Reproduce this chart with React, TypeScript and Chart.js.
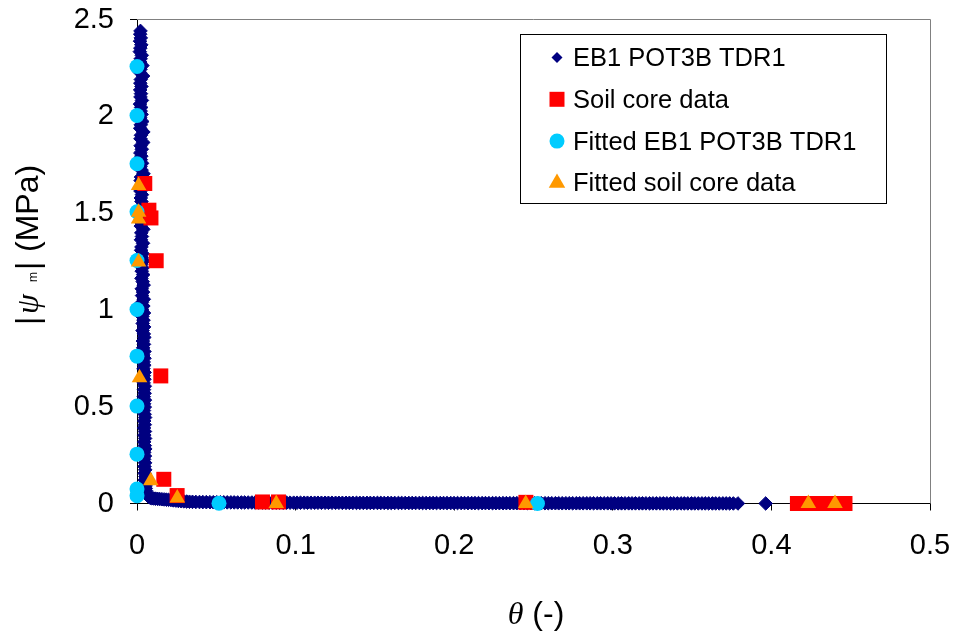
import React, { useEffect, useRef } from 'react';
import { Chart, registerables } from 'chart.js';

Chart.register(...registerables);

const SANS = "'Liberation Sans', Arial, Helvetica, sans-serif";
const SERIF = "'Liberation Serif', 'Times New Roman', serif";

// Axis ticks
const xTickValues = [0, 0.1, 0.2, 0.3, 0.4, 0.5];
const yTickValues = [0, 0.5, 1, 1.5, 2, 2.5];

const seriesLabels = ['EB1 POT3B TDR1', 'Soil core data', 'Fitted EB1 POT3B TDR1', 'Fitted soil core data'];
const seriesColors = ['#000080', '#ff0000', '#00ccff', '#ff9900'];

// TDR record, [theta (-), |psi_m| (MPa)]: drying branch (high suction)
const eb1Tdr1Dry: [number, number][] = [
  [0.0022, 2.441], [0.002, 2.424], [0.0024, 2.405], [0.0019, 2.388], [0.0027, 2.369], [0.0021, 2.352],
  [0.0018, 2.334], [0.003, 2.315], [0.0023, 2.297], [0.002, 2.28], [0.0034, 2.262], [0.0022, 2.243],
  [0.0019, 2.226], [0.0038, 2.208], [0.0024, 2.19], [0.0021, 2.171], [0.0028, 2.154], [0.002, 2.136],
  [0.0025, 2.117], [0.0022, 2.1], [0.0031, 2.082], [0.0019, 2.063], [0.0026, 2.046], [0.0023, 2.027],
  [0.0029, 2.01], [0.0021, 1.992], [0.0033, 1.973], [0.0024, 1.956], [0.002, 1.938], [0.004, 1.919],
  [0.0025, 1.902], [0.0022, 1.884], [0.0039, 1.865], [0.0023, 1.848], [0.003, 1.83], [0.0021, 1.811],
  [0.0027, 1.794], [0.0024, 1.776], [0.0032, 1.757], [0.0022, 1.74], [0.0029, 1.722], [0.0041, 1.703],
  [0.0025, 1.686], [0.0023, 1.668], [0.0037, 1.649], [0.0026, 1.632], [0.0022, 1.614], [0.0031, 1.595],
  [0.0024, 1.578], [0.0028, 1.56], [0.0039, 1.541], [0.0025, 1.524], [0.003, 1.506], [0.0023, 1.487],
  [0.0036, 1.47], [0.0026, 1.452], [0.0024, 1.433], [0.004, 1.416], [0.0027, 1.398], [0.0031, 1.379],
  [0.0025, 1.362], [0.0038, 1.344], [0.0028, 1.325], [0.0026, 1.308], [0.0036, 1.29], [0.0029, 1.271],
  [0.0041, 1.254], [0.0027, 1.236], [0.0035, 1.217], [0.003, 1.2], [0.0039, 1.182], [0.0028, 1.163],
  [0.0036, 1.146], [0.0042, 1.128], [0.003, 1.109], [0.0038, 1.092], [0.0032, 1.074], [0.0043, 1.055],
  [0.0031, 1.038], [0.004, 1.02], [0.0033, 1.001], [0.0044, 0.984], [0.0034, 0.966], [0.0041, 0.947],
  [0.0036, 0.93], [0.0045, 0.912], [0.0035, 0.893], [0.0043, 0.876], [0.0046, 0.858], [0.0037, 0.839],
  [0.0044, 0.822], [0.0039, 0.804], [0.0047, 0.785], [0.004, 0.768], [0.0047, 0.75], [0.0042, 0.731],
  [0.0046, 0.714], [0.0041, 0.696], [0.0048, 0.677], [0.0043, 0.66], [0.0047, 0.642], [0.0042, 0.623],
  [0.0049, 0.606], [0.0044, 0.588], [0.0048, 0.569], [0.0043, 0.552], [0.005, 0.534], [0.0045, 0.515],
  [0.0049, 0.498], [0.0044, 0.48], [0.0048, 0.461], [0.0051, 0.444], [0.0045, 0.426], [0.0049, 0.407],
  [0.0044, 0.39], [0.005, 0.372], [0.0046, 0.353], [0.0051, 0.336], [0.0045, 0.318], [0.0049, 0.299],
  [0.0052, 0.282], [0.0046, 0.264], [0.005, 0.245], [0.0045, 0.228], [0.0051, 0.21], [0.0047, 0.191],
  [0.0052, 0.174], [0.0048, 0.156], [0.0053, 0.139], [0.0049, 0.122], [0.0053, 0.106], [0.0054, 0.091],
  [0.0055, 0.078], [0.0057, 0.066], [0.006, 0.055], [0.0064, 0.046], [0.0069, 0.039], [0.0076, 0.033],
  [0.0084, 0.029], [0.0094, 0.027], [0.0105, 0.026], [0.0117, 0.025], [0.013, 0.024], [0.0143, 0.023],
  [0.0157, 0.022], [0.0171, 0.021], [0.0185, 0.02], [0.0199, 0.019], [0.0214, 0.018], [0.0229, 0.016],
  [0.0245, 0.015], [0.0261, 0.013], [0.0278, 0.012], [0.0295, 0.011], [0.0313, 0.01], [0.0331, 0.009],
];

// TDR record, wet branch (near-zero suction)
const eb1Tdr1Wet: [number, number][] = [
  [0.035, 0.0085], [0.0371, 0.008], [0.0394, 0.0076], [0.0415, 0.0073], [0.0437, 0.007], [0.046, 0.0068],
  [0.0481, 0.0066], [0.0503, 0.0064], [0.0526, 0.0062], [0.0547, 0.0061], [0.0569, 0.0059], [0.0592, 0.0058],
  [0.0613, 0.0056], [0.0635, 0.0055], [0.0658, 0.0054], [0.0679, 0.0053], [0.0701, 0.0052], [0.0724, 0.0051],
  [0.0745, 0.005], [0.0767, 0.0049], [0.079, 0.0048], [0.0811, 0.0047], [0.0833, 0.0047], [0.0856, 0.0046],
  [0.0877, 0.0045], [0.0899, 0.0044], [0.0922, 0.0044], [0.0943, 0.0043], [0.0965, 0.0042], [0.0988, 0.0042],
  [0.1009, 0.0041], [0.1031, 0.004], [0.1054, 0.004], [0.1075, 0.0039], [0.1097, 0.0039], [0.112, 0.0038],
  [0.1141, 0.0038], [0.1163, 0.0037], [0.1186, 0.0037], [0.1207, 0.0036], [0.1229, 0.0036], [0.1252, 0.0035],
  [0.1273, 0.0035], [0.1295, 0.0034], [0.1318, 0.0034], [0.1339, 0.0033], [0.1361, 0.0033], [0.1384, 0.0032],
  [0.1405, 0.0032], [0.1427, 0.0032], [0.145, 0.0031], [0.1471, 0.0031], [0.1493, 0.003], [0.1516, 0.003],
  [0.1537, 0.003], [0.1559, 0.0029], [0.1582, 0.0029], [0.1603, 0.0029], [0.1625, 0.0028], [0.1648, 0.0028],
  [0.1669, 0.0028], [0.1691, 0.0027], [0.1714, 0.0027], [0.1735, 0.0027], [0.1757, 0.0026], [0.178, 0.0026],
  [0.1801, 0.0026], [0.1823, 0.0025], [0.1846, 0.0025], [0.1867, 0.0025], [0.1889, 0.0024], [0.1912, 0.0024],
  [0.1933, 0.0024], [0.1955, 0.0023], [0.1978, 0.0023], [0.1999, 0.0023], [0.2021, 0.0022], [0.2044, 0.0022],
  [0.2065, 0.0022], [0.2087, 0.0021], [0.211, 0.0021], [0.2131, 0.0021], [0.2153, 0.002], [0.2176, 0.002],
  [0.2197, 0.002], [0.2219, 0.0019], [0.2242, 0.0019], [0.2263, 0.0019], [0.2285, 0.0018], [0.2308, 0.0018],
  [0.2329, 0.0018], [0.2351, 0.0017], [0.2374, 0.0017], [0.2395, 0.0017], [0.2417, 0.0016], [0.244, 0.0016],
  [0.2461, 0.0016], [0.2483, 0.0016], [0.2506, 0.0015], [0.2527, 0.0015], [0.2549, 0.0015], [0.2572, 0.0014],
  [0.2593, 0.0014], [0.2615, 0.0014], [0.2638, 0.0014], [0.2659, 0.0013], [0.2681, 0.0013], [0.2704, 0.0013],
  [0.2725, 0.0013], [0.2747, 0.0012], [0.277, 0.0012], [0.2791, 0.0012], [0.2813, 0.0012], [0.2836, 0.0011],
  [0.2857, 0.0011], [0.2879, 0.0011], [0.2902, 0.0011], [0.2923, 0.001], [0.2945, 0.001], [0.2968, 0.001],
  [0.2989, 0.001], [0.3011, 0.0009], [0.3034, 0.0009], [0.3055, 0.0009], [0.3077, 0.0009], [0.31, 0.0009],
  [0.3121, 0.0008], [0.3143, 0.0008], [0.3166, 0.0008], [0.3187, 0.0008], [0.3209, 0.0008], [0.3232, 0.0007],
  [0.3253, 0.0007], [0.3275, 0.0007], [0.3298, 0.0007], [0.3319, 0.0007], [0.3341, 0.0006], [0.3364, 0.0006],
  [0.3385, 0.0006], [0.3407, 0.0006], [0.343, 0.0006], [0.3451, 0.0006], [0.3473, 0.0005], [0.3496, 0.0005],
  [0.3517, 0.0005], [0.3539, 0.0005], [0.3562, 0.0005], [0.3583, 0.0005], [0.3605, 0.0004], [0.3628, 0.0004],
  [0.3649, 0.0004], [0.3671, 0.0004], [0.3694, 0.0004], [0.3715, 0.0004], [0.3737, 0.0004], [0.376, 0.0003],
  [0.3789, 0.0003], [0.3964, 0.0002], [0.416, 0.0002],
];

const soilCore: [number, number][] = [
  [0.0049, 1.653], [0.0075, 1.515], [0.0088, 1.475], [0.0121, 1.254], [0.015, 0.659], [0.0169, 0.125],
  [0.0253, 0.041], [0.0791, 0.008], [0.0892, 0.008], [0.2452, 0.006], [0.4164, 0.0], [0.4233, 0.0],
  [0.431, 0.0], [0.4401, 0.0], [0.4464, 0.0],
];

const fittedEb1Tdr1: [number, number][] = [
  [0, 2.257], [0, 2.004], [0, 1.755], [0, 1.507], [0, 1.255], [0, 1.002], [0, 0.761], [0, 0.503],
  [0, 0.255], [0, 0.075], [0, 0.04], [0.0517, 0.001], [0.2525, 0.0],
];

const fittedSoilCore: [number, number][] = [
  [0.001, 1.643], [0.001, 1.505], [0.001, 1.47], [0.001, 1.248], [0.0016, 0.649], [0.0087, 0.117],
  [0.0254, 0.029], [0.0878, 0.0], [0.2451, 0.0], [0.4233, 0.0], [0.4401, 0.0],
];

const pointStyles = ['rectRot', 'rect', 'circle', 'triangle'];
const pointRadii = [6.8, 10.6, 7.5, 9];
const legendRadii = [5.5, 10.6, 7.5, 9.5];

function drawMarker(ctx: CanvasRenderingContext2D, style: string, x: number, y: number, r: number, color: string) {
  ctx.save();
  ctx.fillStyle = color;
  ctx.beginPath();
  if (style === 'rectRot') {
    ctx.moveTo(x - r, y);
    ctx.lineTo(x, y - r);
    ctx.lineTo(x + r, y);
    ctx.lineTo(x, y + r);
    ctx.closePath();
  } else if (style === 'rect') {
    const s = Math.SQRT1_2 * r;
    ctx.rect(x - s, y - s, 2 * s, 2 * s);
  } else if (style === 'circle') {
    ctx.arc(x, y, r, 0, Math.PI * 2);
  } else {
    ctx.moveTo(x, y - r);
    ctx.lineTo(x + r * 0.866, y + r * 0.5);
    ctx.lineTo(x - r * 0.866, y + r * 0.5);
    ctx.closePath();
  }
  ctx.fill();
  ctx.restore();
}

// Grey top and right edges of the plot area
const plotFramePlugin = {
  id: 'plotFrame',
  beforeDatasetsDraw(chart: any) {
    const { ctx, chartArea } = chart;
    ctx.save();
    ctx.strokeStyle = '#808080';
    ctx.lineWidth = 1;
    ctx.beginPath();
    ctx.moveTo(chartArea.left, Math.floor(chartArea.top) + 0.5);
    ctx.lineTo(Math.round(chartArea.right) + 0.5, Math.floor(chartArea.top) + 0.5);
    ctx.lineTo(Math.round(chartArea.right) + 0.5, chartArea.bottom);
    ctx.stroke();
    ctx.restore();
  },
};

const legendPlugin = {
  id: 'boxLegend',
  afterDraw(chart: any) {
    const { ctx } = chart;
    ctx.save();
    ctx.fillStyle = '#ffffff';
    ctx.fillRect(520, 34, 367, 170);
    ctx.strokeStyle = '#000000';
    ctx.lineWidth = 1;
    ctx.strokeRect(520.5, 34.5, 366, 169);
    chart.data.datasets.forEach((ds: any, i: number) => {
      const cy = 57.5 + 41.8 * i;
      drawMarker(ctx, pointStyles[i], 557, cy, legendRadii[i], seriesColors[i]);
      ctx.fillStyle = '#000000';
      ctx.font = `25.5px ${SANS}`;
      ctx.textAlign = 'left';
      ctx.textBaseline = 'alphabetic';
      ctx.fillText(ds.label, 573, cy + 8.5);
    });
    ctx.restore();
  },
};

const axisTitlePlugin = {
  id: 'axisTitles',
  afterDraw(chart: any) {
    const { ctx } = chart;
    ctx.save();
    ctx.fillStyle = '#000000';
    ctx.textAlign = 'left';
    ctx.textBaseline = 'alphabetic';

    // x title: θ (-)
    ctx.font = `italic 32px ${SERIF}`;
    const thetaW = ctx.measureText('θ').width;
    ctx.font = `32px ${SANS}`;
    const restW = ctx.measureText(' (-)').width;
    const x = 536 - (thetaW + restW) / 2;
    ctx.font = `italic 32px ${SERIF}`;
    ctx.fillText('θ', x, 624);
    ctx.font = `32px ${SANS}`;
    ctx.fillText(' (-)', x + thetaW, 624);

    // y title: |ψm| (MPa), reading upwards
    ctx.translate(38, 325);
    ctx.rotate(-Math.PI / 2);
    ctx.font = `32px ${SANS}`;
    ctx.fillText('|', 0, 0);
    ctx.font = `italic 32px ${SERIF}`;
    ctx.fillText('ψ', 11, 0);
    ctx.font = `12px ${SANS}`;
    ctx.fillText('m', 43, -1);
    ctx.font = `32px ${SANS}`;
    ctx.fillText('|', 55, 0);
    ctx.fillText('(MPa)', 73, 0);
    ctx.restore();
  },
};

const toXY = (pts: [number, number][]) => pts.map(([x, y]) => ({ x, y }));

export default function App() {
  const canvasRef = useRef<HTMLCanvasElement | null>(null);

  useEffect(() => {
    const canvas = canvasRef.current;
    if (!canvas) return;
    const seriesData = [[...eb1Tdr1Dry, ...eb1Tdr1Wet], soilCore, fittedEb1Tdr1, fittedSoilCore];
    const chart = new Chart(canvas, {
      type: 'scatter',
      data: {
        datasets: seriesData.map((pts, i) => ({
          label: seriesLabels[i],
          data: toXY(pts),
          pointStyle: pointStyles[i] as any,
          pointRadius: pointRadii[i],
          pointHoverRadius: pointRadii[i],
          pointBackgroundColor: seriesColors[i],
          pointBorderColor: seriesColors[i],
          pointBorderWidth: i === 0 ? 1 : 0,
          showLine: false,
          order: 4 - i,
          clip: false as any,
        })),
      },
      options: {
        responsive: false,
        animation: false,
        devicePixelRatio: 1,
        events: [],
        layout: { padding: { left: 0, top: 19.5, right: 28, bottom: 0 } },
        plugins: { legend: { display: false }, tooltip: { enabled: false } },
        scales: {
          x: {
            type: 'linear',
            min: 0,
            max: 0.5,
            afterBuildTicks: (scale: any) => {
              scale.ticks = xTickValues.map((value) => ({ value }));
            },
            afterFit: (scale: any) => {
              scale.height = 127.5;
              scale.paddingLeft = 0;
              scale.paddingRight = 0;
            },
            ticks: {
              autoSkip: false,
              maxRotation: 0,
              color: '#000000',
              padding: 18,
              font: { family: SANS, size: 29 },
              callback: (v: any) => String(v),
            },
            grid: { drawOnChartArea: false, drawTicks: true, tickLength: 7, tickColor: '#000000', color: '#000000' },
            border: { display: true, color: '#000000', width: 1 },
          },
          y: {
            type: 'linear',
            min: 0,
            max: 2.5,
            afterBuildTicks: (scale: any) => {
              scale.ticks = yTickValues.map((value) => ({ value }));
            },
            afterFit: (scale: any) => {
              scale.width = 137;
              scale.paddingTop = 0;
              scale.paddingBottom = 0;
            },
            ticks: {
              autoSkip: false,
              color: '#000000',
              padding: 16,
              font: { family: SANS, size: 29 },
              callback: (v: any) => String(v),
            },
            grid: { drawOnChartArea: false, drawTicks: true, tickLength: 7, tickColor: '#000000', color: '#000000' },
            border: { display: true, color: '#000000', width: 1 },
          },
        },
      },
      plugins: [plotFramePlugin, legendPlugin, axisTitlePlugin],
    });
    return () => chart.destroy();
  }, []);

  return (
    <div style={{ position: 'absolute', left: 0, top: 0, width: 958, height: 631, background: '#ffffff' }}>
      <canvas ref={canvasRef} width={958} height={631} style={{ display: 'block' }} />
    </div>
  );
}
